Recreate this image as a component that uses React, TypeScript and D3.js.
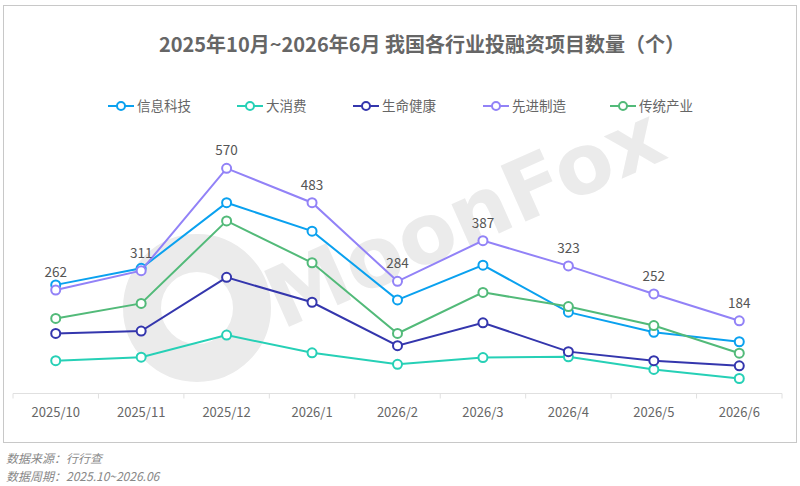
import * as React from "react";
import * as d3 from "d3";

const months = ["2025/10", "2025/11", "2025/12", "2026/1", "2026/2", "2026/3", "2026/4", "2026/5", "2026/6"];
const seriesNames = ["信息科技", "大消费", "生命健康", "先进制造", "传统产业"];
const seriesColors = ["#0aa1ef", "#26d0b6", "#3436ad", "#9282f7", "#52ba79"];

const infoTech = [275, 317, 483, 411, 237, 325, 206, 155, 131];
const consumer = [83, 92, 148, 103, 74, 91, 93, 61, 38];
const health = [152, 158, 294, 231, 121, 179, 106, 83, 70];
const manufacturing = [262, 311, 570, 483, 284, 387, 323, 252, 184];
const traditional = [190, 228, 437, 331, 152, 256, 220, 172, 102];

const allSeries = [infoTech, consumer, health, manufacturing, traditional];
const labelledSeries = 3; // only 先进制造 carries value labels

const W = 800;
const H = 486;
const FONT = "'Noto Sans CJK SC', 'Noto Sans', sans-serif";

function drawChart(svgEl: SVGSVGElement) {
  const svg = d3.select(svgEl);
  svg.selectAll("*").remove();

  // frame
  svg
    .append("rect")
    .attr("x", 3.5)
    .attr("y", 5.5)
    .attr("width", 793)
    .attr("height", 437)
    .attr("fill", "#fff")
    .attr("stroke", "#c8c8c8");

  const x = d3.scaleBand().domain(months).range([13, 782]);
  const y = d3.scaleLinear().domain([0, 600]).range([393.5, 156.5]);

  // watermark
  const wm = svg.append("g").attr("pointer-events", "none");
  wm.append("circle")
    .attr("cx", 197)
    .attr("cy", 308)
    .attr("r", 55)
    .attr("fill", "none")
    .attr("stroke", "#ebebeb")
    .attr("stroke-width", 38);
  wm.append("text")
    .attr("transform", "translate(282,330) rotate(-24)")
    .attr("font-family", "'DejaVu Sans', sans-serif")
    .attr("font-weight", "bold")
    .attr("font-size", 84)
    .attr("fill", "#ebebeb")
    .text("MoonFox");

  // title
  svg
    .append("text")
    .attr("x", 422)
    .attr("y", 52)
    .attr("text-anchor", "middle")
    .attr("font-family", FONT)
    .attr("font-size", 20)
    .attr("font-weight", "bold")
    .attr("fill", "#666")
    .text("2025年10月~2026年6月 我国各行业投融资项目数量（个）");

  // legend
  const legendX = [108, 237, 353, 483, 610];
  const legend = svg
    .append("g")
    .selectAll("g")
    .data(seriesNames)
    .join("g")
    .attr("transform", (_, i) => `translate(${legendX[i]},106)`);
  legend
    .append("line")
    .attr("x1", 0)
    .attr("x2", 26)
    .attr("stroke", (_, i) => seriesColors[i])
    .attr("stroke-width", 2);
  legend
    .append("circle")
    .attr("cx", 13)
    .attr("r", 4)
    .attr("fill", "#fff")
    .attr("stroke", (_, i) => seriesColors[i])
    .attr("stroke-width", 2);
  legend
    .append("text")
    .attr("x", 29)
    .attr("dy", "0.35em")
    .attr("font-family", FONT)
    .attr("font-size", 13.5)
    .attr("fill", "#666")
    .text((d) => d);

  // x axis
  const xAxis = svg.append("g").attr("transform", "translate(0,393.5)");
  xAxis
    .append("line")
    .attr("x1", 13)
    .attr("x2", 782)
    .attr("stroke", "#e0e0e0");
  xAxis
    .selectAll(".tick")
    .data(months)
    .join("line")
    .attr("x1", (d) => x(d)!)
    .attr("x2", (d) => x(d)!)
    .attr("y2", 5)
    .attr("stroke", "#e0e0e0");
  xAxis
    .append("line")
    .attr("x1", 782)
    .attr("x2", 782)
    .attr("y2", 5)
    .attr("stroke", "#e0e0e0");
  xAxis
    .selectAll("text")
    .data(months)
    .join("text")
    .attr("x", (d) => x(d)! + x.bandwidth() / 2)
    .attr("y", 23)
    .attr("text-anchor", "middle")
    .attr("font-family", FONT)
    .attr("font-size", 13)
    .attr("fill", "#666")
    .text((d) => d);

  const cx = (i: number) => x(months[i])! + x.bandwidth() / 2;
  const line = d3
    .line<number>()
    .x((_, i) => cx(i))
    .y((v) => y(v));

  allSeries.forEach((vals, s) => {
    const g = svg.append("g");
    g.append("path")
      .attr("d", line(vals)!)
      .attr("fill", "none")
      .attr("stroke", seriesColors[s])
      .attr("stroke-width", 2);
    g.selectAll("circle")
      .data(vals)
      .join("circle")
      .attr("cx", (_, i) => cx(i))
      .attr("cy", (v) => y(v))
      .attr("r", 4.5)
      .attr("fill", "#fff")
      .attr("stroke", seriesColors[s])
      .attr("stroke-width", 2);
    if (s === labelledSeries) {
      g.selectAll("text")
        .data(vals)
        .join("text")
        .attr("x", (_, i) => cx(i))
        .attr("y", (v) => y(v) - 13)
        .attr("text-anchor", "middle")
        .attr("font-family", FONT)
        .attr("font-size", 13.5)
        .attr("fill", "#555")
        .text((v) => v);
    }
  });

  // footer notes
  const notes = ["数据来源：行行查", "数据周期：2025.10~2026.06"];
  svg
    .selectAll(".note")
    .data(notes)
    .join("text")
    .attr("x", 6)
    .attr("y", (_, i) => 463 + i * 17.5)
    .attr("font-family", FONT)
    .attr("font-size", 12)
    .attr("font-style", "italic")
    .attr("fill", "#888")
    .text((d) => d);
}

const App: React.FunctionComponent = () => {
  const svg = React.useRef<SVGSVGElement>(null);
  React.useEffect(() => {
    if (svg.current) drawChart(svg.current);
  }, []);

  return (
    <div style={{ position: "absolute", left: 0, top: 0 }}>
      <svg ref={svg} width={W} height={H} style={{ display: "block", background: "#fff" }} />
    </div>
  );
};

export default App;
